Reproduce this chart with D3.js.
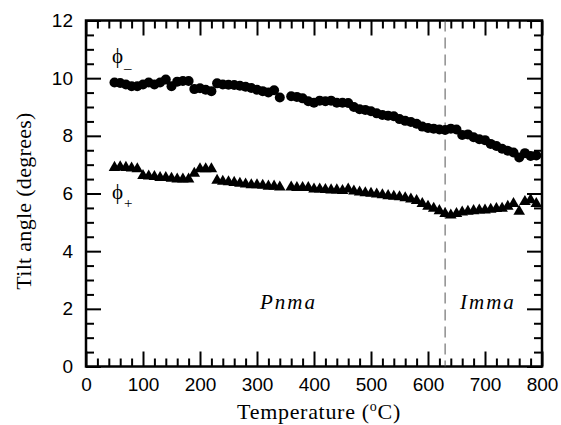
<!DOCTYPE html>
<html>
<head>
<meta charset="utf-8">
<script src="https://cdn.jsdelivr.net/npm/d3@7"></script>
<style>
body { margin: 0; background: #fff; }
</style>
</head>
<body>
<script>
// temperatures (°C) of each measurement, null values are gaps in the data
var temps = [50, 60, 70, 80, 90, 100, 110, 120, 130, 140, 150, 160, 170, 180, 190, 200,
    210, 220, 230, 240, 250, 260, 270, 280, 290, 300, 310, 320, 330, 340, 350, 360,
    370, 380, 390, 400, 410, 420, 430, 440, 450, 460, 470, 480, 490, 500, 510, 520,
    530, 540, 550, 560, 570, 580, 590, 600, 610, 620, 630, 640, 650, 660, 670, 680,
    690, 700, 710, 720, 730, 740, 750, 760, 770, 780, 790];

var phiMinus = [9.85, 9.83, 9.78, 9.72, 9.72, 9.78, 9.85, 9.78, 9.85, 9.95, 9.72, 9.88, 9.9, 9.9, 9.62, 9.65,
    9.6, 9.55, 9.82, 9.78, 9.77, 9.76, 9.74, 9.7, 9.66, 9.6, 9.55, 9.5, 9.58, 9.33, null, 9.37,
    9.35, 9.3, 9.2, 9.15, 9.22, 9.2, 9.22, 9.15, 9.15, 9.14, 9.0, 8.92, 8.9, 8.85, 8.78, 8.72,
    8.7, 8.68, 8.58, 8.52, 8.48, 8.42, 8.32, 8.27, 8.25, 8.22, 8.2, 8.25, 8.22, 8.03, 8.05, 7.95,
    7.88, 7.85, 7.72, 7.65, 7.55, 7.48, 7.42, 7.25, 7.4, 7.3, 7.32];

var phiPlus = [6.9, 6.92, 6.9, 6.88, 6.85, 6.62, 6.6, 6.58, 6.55, 6.55, 6.52, 6.5, 6.5, 6.5, 6.7, 6.85,
    6.85, 6.85, 6.45, 6.42, 6.4, 6.38, 6.35, 6.32, 6.3, 6.3, 6.28, 6.25, 6.25, 6.22, null, 6.22,
    6.2, 6.2, 6.2, 6.15, 6.15, 6.13, 6.12, 6.12, 6.1, 6.15, 6.08, 6.05, 6.02, 6.0, 5.98, 5.95,
    5.92, 5.9, 5.88, 5.85, 5.8, 5.75, 5.65, 5.55, 5.48, 5.4, 5.3, 5.25, 5.3, 5.35, 5.38, 5.4,
    5.42, 5.42, 5.45, 5.47, 5.48, 5.55, 5.65, 5.38, 5.72, 5.78, 5.65];

var xTicks = [0, 100, 200, 300, 400, 500, 600, 700, 800];
var xMinor = [20, 40, 60, 80, 120, 140, 160, 180, 220, 240, 260, 280, 320, 340, 360, 380,
    420, 440, 460, 480, 520, 540, 560, 580, 620, 640, 660, 680, 720, 740, 760, 780];
var yTicks = [0, 2, 4, 6, 8, 10, 12];
var yMinor = [0.5, 1, 1.5, 2.5, 3, 3.5, 4.5, 5, 5.5, 6.5, 7, 7.5, 8.5, 9, 9.5, 10.5, 11, 11.5];
var transitionT = 630;

const w = 561,
    h = 425;
const margin = { top: 20.5, right: 19, bottom: 58.5, left: 86 };
const svg = d3.select("body")
    .append("svg")
    .attr("width", w)
    .attr("height", h);

var xScale = d3.scaleLinear()
    .domain([0, 800])
    .range([margin.left, w - margin.right]);
var yScale = d3.scaleLinear()
    .domain([0, 12])
    .range([h - margin.bottom, margin.top]);

var tickFont = "'Liberation Sans', Arial, Helvetica, sans-serif";
var serif = "'Liberation Serif', 'Times New Roman', Times, serif";

var styleAxis = function (g) {
    g.select(".domain").remove();
    g.selectAll(".tick line").attr("stroke", "#000").attr("stroke-width", 2);
    g.selectAll("text")
        .attr("font-family", tickFont)
        .attr("font-size", 19)
        .attr("fill", "#000");
}

// bottom axis
svg.append("g")
    .attr("transform", "translate(0," + yScale(0) + ")")
    .call(d3.axisBottom(xScale).tickValues(xTicks).tickSize(-15).tickPadding(11).tickFormat(d3.format("d")))
    .call(styleAxis);
svg.append("g")
    .attr("transform", "translate(0," + yScale(0) + ")")
    .call(d3.axisBottom(xScale).tickValues(xMinor).tickSize(-8).tickFormat(""))
    .call(styleAxis);
// top axis
svg.append("g")
    .attr("transform", "translate(0," + yScale(12) + ")")
    .call(d3.axisTop(xScale).tickValues(xTicks).tickSize(-15).tickFormat(""))
    .call(styleAxis);
svg.append("g")
    .attr("transform", "translate(0," + yScale(12) + ")")
    .call(d3.axisTop(xScale).tickValues(xMinor).tickSize(-8).tickFormat(""))
    .call(styleAxis);
// left axis
svg.append("g")
    .attr("transform", "translate(" + xScale(0) + ",0)")
    .call(d3.axisLeft(yScale).tickValues(yTicks).tickSize(-15).tickPadding(13).tickFormat(d3.format("d")))
    .call(styleAxis);
svg.append("g")
    .attr("transform", "translate(" + xScale(0) + ",0)")
    .call(d3.axisLeft(yScale).tickValues(yMinor).tickSize(-8).tickFormat(""))
    .call(styleAxis);
// right axis
svg.append("g")
    .attr("transform", "translate(" + xScale(800) + ",0)")
    .call(d3.axisRight(yScale).tickValues(yTicks).tickSize(-15).tickFormat(""))
    .call(styleAxis);
svg.append("g")
    .attr("transform", "translate(" + xScale(800) + ",0)")
    .call(d3.axisRight(yScale).tickValues(yMinor).tickSize(-8).tickFormat(""))
    .call(styleAxis);

// frame
svg.append("rect")
    .attr("x", xScale(0))
    .attr("y", yScale(12))
    .attr("width", xScale(800) - xScale(0))
    .attr("height", yScale(0) - yScale(12))
    .attr("fill", "none")
    .attr("stroke", "#000")
    .attr("stroke-width", 2.5);

// phase boundary
svg.append("line")
    .attr("x1", xScale(transitionT))
    .attr("x2", xScale(transitionT))
    .attr("y1", yScale(12))
    .attr("y2", yScale(0))
    .attr("stroke", "#555")
    .attr("stroke-width", 1)
    .attr("stroke-dasharray", "11,6");

// phi- circles
var minusData = temps.map((t, i) => [t, phiMinus[i]]).filter((d) => d[1] != null);
svg.selectAll("circle.minus")
    .data(minusData)
    .enter()
    .append("circle")
    .attr("class", "minus")
    .attr("cx", (d) => xScale(d[0]))
    .attr("cy", (d) => yScale(d[1]))
    .attr("r", 5)
    .attr("fill", "#000");

// phi+ triangles
var plusData = temps.map((t, i) => [t, phiPlus[i]]).filter((d) => d[1] != null);
var tri = d3.symbol().type(d3.symbolTriangle).size(58);
svg.selectAll("path.plus")
    .data(plusData)
    .enter()
    .append("path")
    .attr("class", "plus")
    .attr("d", tri)
    .attr("transform", (d) => "translate(" + xScale(d[0]) + "," + yScale(d[1]) + ")")
    .attr("fill", "#000");

// series labels
var phiLabel = function (x, y, sub, subDy) {
    var t = svg.append("text")
        .attr("x", x)
        .attr("y", y)
        .attr("font-family", serif)
        .attr("font-size", 21)
        .attr("fill", "#000");
    t.append("tspan").text("\u03D5");
    t.append("tspan")
        .attr("dy", subDy)
        .attr("dx", 1)
        .attr("font-size", 15)
        .text(sub);
}
phiLabel(112, 63, "\u2013", 10);
phiLabel(112, 199, "+", 9);

// phase labels
svg.append("text")
    .attr("x", 260)
    .attr("y", 309)
    .attr("font-family", serif)
    .attr("font-style", "italic")
    .attr("font-size", 21)
    .attr("letter-spacing", 2)
    .text("Pnma");
svg.append("text")
    .attr("x", 460)
    .attr("y", 309)
    .attr("font-family", serif)
    .attr("font-style", "italic")
    .attr("font-size", 21)
    .attr("letter-spacing", 2)
    .text("Imma");

// axis titles
var xTitle = svg.append("text")
    .attr("x", 319)
    .attr("y", 419)
    .attr("text-anchor", "middle")
    .attr("font-family", serif)
    .attr("font-size", 22)
    .attr("letter-spacing", 0.7);
xTitle.append("tspan").text("Temperature (");
xTitle.append("tspan").attr("dy", -8).attr("font-size", 14).text("o");
xTitle.append("tspan").attr("dy", 8).text("C)");

svg.append("text")
    .attr("transform", "translate(31," + 201 + ") rotate(-90)")
    .attr("text-anchor", "middle")
    .attr("font-family", serif)
    .attr("font-size", 22)
    .attr("letter-spacing", 0.3)
    .text("Tilt angle (degrees)");
</script>
</body>
</html>
